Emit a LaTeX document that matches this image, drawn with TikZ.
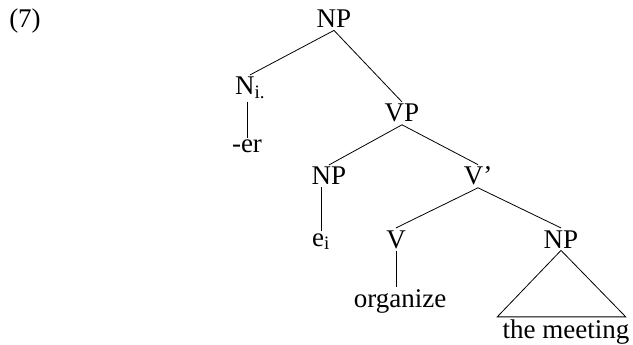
\documentclass[tikz,border=0pt]{standalone}
\usepackage{fontspec}
\setmainfont{Liberation Serif}
\tikzset{cat/.style={anchor=base,inner sep=2pt,font=\fontsize{27}{32}\selectfont}}

\begin{document}
\begin{tikzpicture}[x=1pt,y=-1pt,line width=0.8pt]
	\useasboundingbox (0,0) rectangle (633,345);
	
	\node[cat] (ex) at (25,28) {(7)};
	
	% labels
	\node[cat] (np) at (334,28) {NP};
	\node[cat] (ni) at (250,95) {N\textsubscript{i.}};
	\node[cat] (er) at (247,153) {-er};
	\node[cat] (vp) at (402,122) {VP};
	\node[cat] (np2) at (329,185) {NP};
	\node[cat] (ei) at (321,246) {e\textsubscript{i}};
	\node[cat] (vbar) at (478,185) {V’};
	\node[cat] (v) at (396,248) {V};
	\node[cat] (org) at (400,307) {organize};
	\node[cat] (np3) at (561,248) {NP};
	\node[cat] (meet) at (566,338) {the meeting};
	
	% branches
	\draw (np.south) -- (ni.north);
	\draw (ni.south -| er.north) -- (er.north);
	\draw (np.south) -- (vp.north);
	\draw (vp.south) -- (np2.north);
	\draw (vp.south) -- (vbar.north);
	\draw (np2.south -| ei.north) -- (ei.north);
	\draw (vbar.south) -- (v.north);
	\draw (vbar.south) -- (np3.north);
	\draw (v.south) -- (v.south |- org.north);
	\draw (np3.south) -- ([xshift=-3pt]meet.north west) -- ([xshift=-6pt]meet.north east) -- cycle;
\end{tikzpicture}
\end{document}
